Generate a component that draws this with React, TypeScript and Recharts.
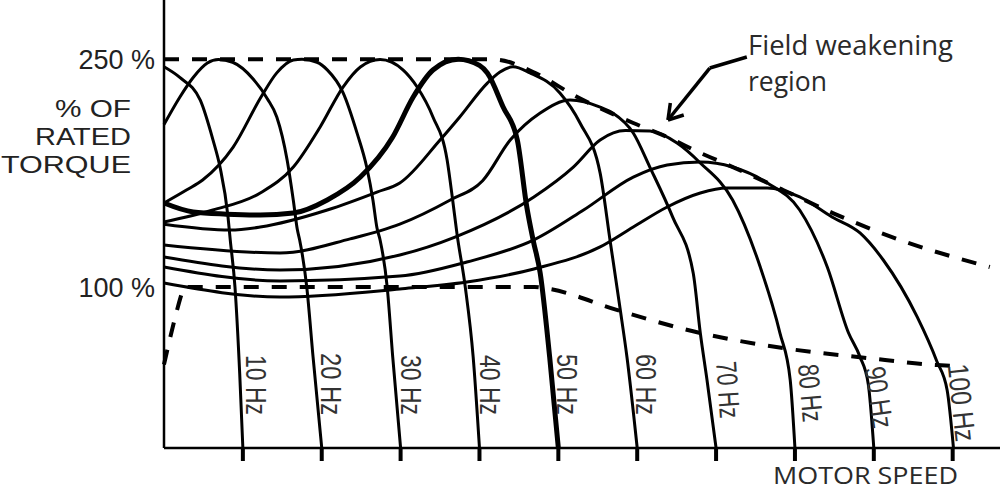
import React from "react";
import { LineChart, Line, XAxis, YAxis, ReferenceLine } from "recharts";

// speed in Hz, torque in % of rated torque
const hz10 = [[0, 245], [2.0, 238], [4.6, 223], [6.2, 197], [7.1, 179], [8.1, 147], [8.4, 131], [9.0, 100], [9.6, 43], [10, -6]];
const hz20 = [[0, 207], [2.0, 225], [3.7, 238], [5.5, 247.5], [6.9, 249.8], [8.7, 248], [11.3, 237], [13.1, 224], [14.3, 212], [15.6, 184], [16.4, 157], [16.9, 138], [17.2, 131], [18.1, 100], [18.9, 54], [20, -6]];
const hz30 = [[0, 155.3], [2.9, 164], [4.9, 170.5], [8.75, 192], [12.4, 226], [14.3, 241], [16.4, 249.5], [17.5, 250], [19.4, 248], [20.7, 243], [22.7, 228], [24.5, 201], [25.7, 179], [26.5, 157], [27.0, 139], [27.4, 131], [28.3, 100], [29.0, 54], [30, -6]];
const hz40 = [[0, 142.8], [6.2, 150.7], [12.2, 161.9], [16.4, 179], [19.8, 205.4], [22.7, 231.7], [24.9, 244.9], [27.4, 249.8], [30.3, 243], [32.1, 231.7], [34.1, 212], [35.9, 183.6], [36.6, 157.3], [37.15, 135], [38.2, 100], [39.2, 54], [40, -6]];
const hz50 = [[0, 155.3], [3.7, 149.4], [7.9, 148], [12.2, 147.4], [16.4, 148.7], [20.7, 157.3], [24.9, 172.4], [29.0, 198.8], [31.6, 225.1], [34.1, 242.9], [37.3, 250], [40.0, 246], [41.0, 240.9], [43.0, 218.5], [44.8, 196.8], [46.0, 152.7], [46.8, 131], [47.7, 109.2], [48.9, 53.9], [50, -6]];
const hz60 = [[0, 141.4], [8.4, 137.5], [12.2, 139.5], [20.7, 150.7], [27.0, 162.5], [29.9, 168.5], [35.0, 196.8], [37.5, 212], [41.0, 234.3], [42.6, 241.6], [44.25, 245], [46.4, 241], [50.2, 227.8], [52.75, 208], [55.3, 175], [56.55, 131], [57.8, 86.8], [58.7, 53.9], [60, -6]];
const hz70 = [[0, 127.7], [14.7, 122.4], [23.6, 131.7], [29.9, 141.4], [36.3, 157.3], [40.4, 170], [43.9, 196.8], [47.7, 214.6], [51.5, 223.1], [55.3, 218.5], [56.9, 214.6], [59.5, 201.4], [61.6, 179], [64.5, 146], [67.1, 109.2], [68.0, 69.7], [68.85, 38.8], [70, -6]];
const hz80 = [[0, 119.8], [14.7, 111.2], [29.9, 121.1], [36.9, 132.9], [46.9, 159.3], [51.9, 179], [55.3, 196.8], [58.5, 203], [61.6, 202.7], [65.05, 194.8], [68.0, 181.7], [72.1, 157.3], [75.6, 113.2], [78.1, 69.7], [79.4, 38.8], [80, -6]];
const hz90 = [[0, 113.2], [14.7, 104], [29.9, 107.2], [38.4, 116.5], [46.9, 131], [53.2, 150.7], [59.5, 172.4], [63.8, 180.4], [68.0, 182.3], [72.1, 179], [76.5, 168.5], [80.6, 150.7], [84.1, 113.2], [86.8, 69.7], [88.25, 54], [89.3, 36], [90, -6]];
const hz100 = [[0, 102.6], [14.7, 93.4], [29.9, 98.7], [38.4, 103.3], [46.9, 111.9], [55.3, 126.4], [59.5, 139.5], [63.8, 152.7], [68.0, 161.9], [71.4, 165.2], [76.5, 165.2], [80.6, 159.3], [84.7, 146.1], [88.25, 135.6], [91.2, 117.8], [95.5, 80.3], [98.0, 51], [99.3, 32], [100.1, -6]];

// dashed limits
const breakdownLimit = [[0, 250], [41, 250], [42.6, 249.5], [46.8, 241.6], [52.4, 225.1], [59.5, 208], [63.8, 198.8], [68.0, 188.3], [70.1, 183.6], [78.5, 163.9], [84.8, 148.7], [93.3, 131], [104.7, 113.2]];
const ratedLimit = [[0, 49], [2.3, 96.7], [2.5, 100], [47.0, 100], [48.9, 98.7], [57.4, 84.9], [68.0, 69.7], [78.5, 59.8], [89.1, 53.3], [98.0, 48.6], [100.5, 48]];

const hzTicks = [10, 20, 30, 40, 50, 60, 70, 80, 90, 100];
const hzLabels = ["10 Hz", "20 Hz", "30 Hz", "40 Hz", "50 Hz", "60 Hz", "70 Hz", "80 Hz", "90 Hz", "100 Hz"];
const torqueTicks = [100, 250];

const curves = [hz10, hz20, hz30, hz40, hz50, hz60, hz70, hz80, hz90, hz100];

// label placement next to each curve (pixels / degrees)
const labelLayout = [
  { dx: 3, top: 355, rot: 90, len: 60 },
  { dx: -1, top: 353, rot: 90, len: 62 },
  { dx: 0, top: 355, rot: 90, len: 60 },
  { dx: 1, top: 355, rot: 90, len: 60 },
  { dx: -1, top: 354, rot: 90, len: 61 },
  { dx: -1, top: 354, rot: 90, len: 61 },
  { dx: 0, top: 362, rot: 86, len: 57 },
  { dx: 3, top: 365, rot: 85, len: 58 },
  { dx: -9, top: 368, rot: 82, len: 62 },
  { dx: -5, top: 365, rot: 84, len: 78 },
];

const AXIS_Y = 448;
const FONT = "'Liberation Sans', Arial, sans-serif";
const NOTE_FONT = "'Open Sans', sans-serif";

const toPts = (arr: number[][]) => arr.map(([s, t]) => ({ s, t }));

const HzTick = (props: any) => {
  const { x, payload } = props;
  const i = hzTicks.indexOf(payload.value);
  const lb = labelLayout[i];
  return (
    <g>
      <line x1={x} x2={x} y1={AXIS_Y} y2={AXIS_Y + 13} stroke="#000" strokeWidth={4} />
      <text
        transform={`translate(${x + lb.dx},${lb.top}) rotate(${lb.rot})`}
        fontFamily={FONT}
        fontSize={29}
        fill="#333"
        textLength={lb.len}
        lengthAdjust="spacingAndGlyphs"
      >
        {hzLabels[i]}
      </text>
    </g>
  );
};

const YTitle = () => (
  <g fontFamily={FONT} fontSize={24} fill="#222">
    <text x={55} y={117} textLength={76} lengthAdjust="spacingAndGlyphs">% OF</text>
    <text x={35} y={145} textLength={96} lengthAdjust="spacingAndGlyphs">RATED</text>
    <text x={1} y={173} textLength={130} lengthAdjust="spacingAndGlyphs">TORQUE</text>
  </g>
);

const Notes = () => (
  <g fill="#2a2a2a" fontFamily={NOTE_FONT}>
    <text x={773} y={484} fontSize={24} textLength={185} lengthAdjust="spacingAndGlyphs">
      MOTOR SPEED
    </text>
    <text x={748} y={55} fontSize={27} textLength={205} lengthAdjust="spacingAndGlyphs">
      Field weakening
    </text>
    <text x={748} y={91} fontSize={27} textLength={79} lengthAdjust="spacingAndGlyphs">
      region
    </text>
  </g>
);

const arrow = [
  [{ x: 73.9, y: 251.5 }, { x: 69.2, y: 244.2 }],
  [{ x: 69.2, y: 244.2 }, { x: 63.9, y: 210 }],
  [{ x: 63.9, y: 210 }, { x: 64.2, y: 221.2 }],
  [{ x: 63.9, y: 210 }, { x: 65.9, y: 213.3 }],
];

export default function App() {
  return (
    <div style={{ position: "absolute", left: 0, top: 0, background: "#fff" }}>
      <LineChart width={1000} height={491} margin={{ top: 0, right: 0, bottom: 0, left: 0 }}>
        <XAxis
          type="number"
          dataKey="s"
          domain={[0, 106]}
          ticks={hzTicks}
          interval={0}
          height={43}
          axisLine={{ stroke: "#000", strokeWidth: 2.5 }}
          tickLine={false}
          tick={(p: any) => <HzTick {...p} />}
          label={<Notes />}
        />
        <YAxis
          type="number"
          domain={[-6, 289]}
          ticks={torqueTicks}
          width={164}
          axisLine={{ stroke: "#000", strokeWidth: 2.5 }}
          tickLine={false}
          tickSize={5}
          tickMargin={4}
          tick={{ fill: "#222", fontSize: 27, fontFamily: FONT }}
          tickFormatter={(v: number) => `${v} %`}
          label={<YTitle />}
        />
        {curves.map((c, i) => (
          <Line
            key={hzLabels[i]}
            data={toPts(c)}
            dataKey="t"
            type="monotone"
            stroke="#000"
            strokeWidth={i === 4 ? 5 : 3}
            dot={false}
            activeDot={false}
            isAnimationActive={false}
          />
        ))}
        <Line data={toPts(breakdownLimit)} dataKey="t" type="monotone" stroke="#000" strokeWidth={4} strokeDasharray="15 13" dot={false} activeDot={false} isAnimationActive={false} />
        <Line data={toPts(ratedLimit)} dataKey="t" type="monotone" stroke="#000" strokeWidth={4} strokeDasharray="15 13" dot={false} activeDot={false} isAnimationActive={false} />
        {arrow.map((seg, i) => (
          <ReferenceLine key={i} segment={seg} stroke="#000" strokeWidth={3.5} ifOverflow="visible" />
        ))}
      </LineChart>
    </div>
  );
}
